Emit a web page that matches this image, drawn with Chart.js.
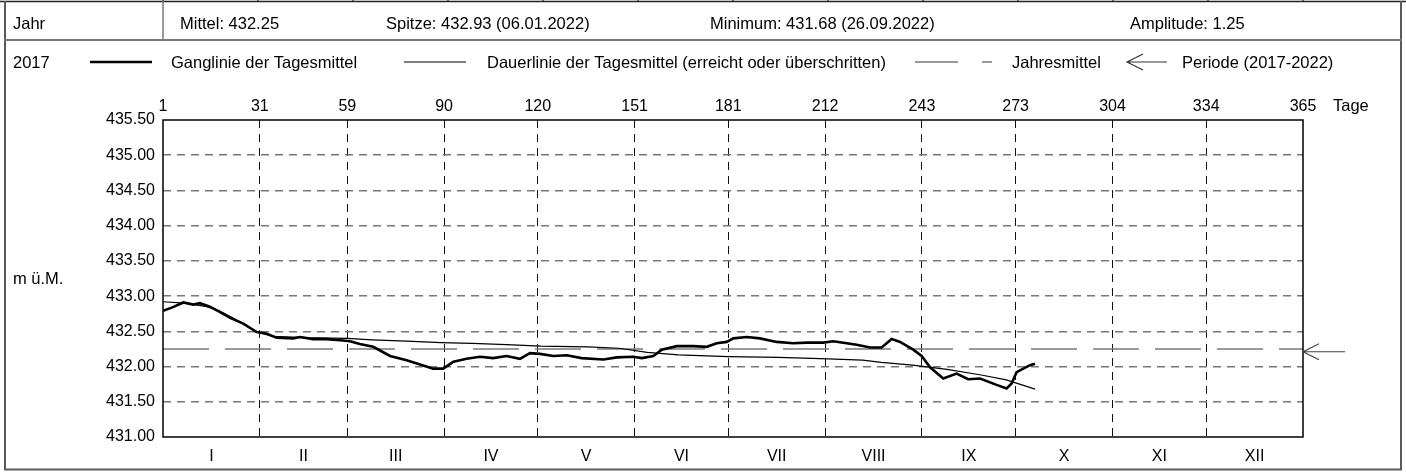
<!DOCTYPE html>
<html><head><meta charset="utf-8">
<script src="https://cdn.jsdelivr.net/npm/chart.js@4.4.1/dist/chart.umd.min.js"></script>
<style>html,body{margin:0;padding:0;background:#fff;overflow:hidden}</style>
</head><body>
<canvas id="c" width="1406" height="472" style="width:1406px;height:472px;display:block"></canvas>
<script>
// ---- data ----
const dayTicks = [0,31,59,90,120,151,181,212,243,273,304,334,365];
const dayTickLabels = ['1','31','59','90','120','151','181','212','243','273','304','334','365'];
const monthCenters = [15.5,45,74.5,105,135.5,166,196.5,227.5,258,288.5,319,349.5];
const monthLabels = ['I','II','III','IV','V','VI','VII','VIII','IX','X','XI','XII'];
const yTicks = [431,431.5,432,432.5,433,433.5,434,434.5,435,435.5];

const gangDays = [0,3,6.5,9.7,11.8,15,18,21.5,25.7,30,33,36.4,41.7,43.9,48,52.4,57.7,59.9,63,67.3,72.7,78,82.3,86.5,89.7,93,97.2,101.5,105.7,110,114.3,117.5,120.7,125,129.3,134,141,145.3,150.6,153.3,157,159.7,164.5,169.8,174.1,177.3,180.5,182.6,186.9,191.1,196.5,201.8,206.1,211.4,214.6,218.9,222.1,226.4,230.1,233.3,236,240.2,242.9,245.6,249.8,254.1,257.8,261.6,266.9,270.1,271.7,273.3,277.6,279.2];
const gangValues = [432.79,432.84,432.91,432.88,432.90,432.85,432.78,432.69,432.61,432.49,432.47,432.41,432.40,432.42,432.39,432.39,432.37,432.36,432.32,432.28,432.15,432.09,432.03,431.97,431.97,432.07,432.11,432.14,432.12,432.15,432.11,432.19,432.18,432.15,432.16,432.12,432.10,432.13,432.14,432.12,432.15,432.24,432.29,432.29,432.28,432.33,432.35,432.40,432.42,432.40,432.35,432.33,432.34,432.34,432.36,432.33,432.31,432.27,432.27,432.39,432.35,432.24,432.15,431.99,431.83,431.90,431.82,431.83,431.74,431.69,431.76,431.92,432.02,432.04];

const dauerDays = [0,7,14,18,22,26,30,35,45,59,67,78,89,99,110,121,136,146,155,165,181,197,213,224,230,240,251,262,270,275,279.2];
const dauerValues = [432.92,432.90,432.85,432.79,432.70,432.60,432.49,432.43,432.41,432.40,432.38,432.36,432.34,432.33,432.31,432.29,432.28,432.26,432.20,432.165,432.14,432.13,432.11,432.09,432.06,432.02,431.96,431.88,431.81,431.74,431.68];

const jahresmittel = 432.25;
const periodeMittel = 432.21;

const headerTexts = ['Jahr','Mittel: 432.25','Spitze: 432.93 (06.01.2022)','Minimum: 431.68 (26.09.2022)','Amplitude: 1.25'];
const legendTexts = ['2017','Ganglinie der Tagesmittel','Dauerlinie der Tagesmittel (erreicht oder überschritten)','Jahresmittel','Periode (2017-2022)'];
const yAxisTitle = 'm ü.M.';
const xAxisTitle = 'Tage';

// ---- chart ----
const FONT = '"Liberation Sans", Arial, sans-serif';
const toXY = (xs, ys) => xs.map((x, i) => ({x, y: ys[i]}));

function line(ctx, x1, y1, x2, y2, color, w, dash) {
  ctx.save();
  ctx.beginPath();
  ctx.strokeStyle = color; ctx.lineWidth = w;
  ctx.setLineDash(dash || []);
  ctx.moveTo(x1, y1); ctx.lineTo(x2, y2); ctx.stroke();
  ctx.restore();
}
function arrow(ctx, tipX, y, len, color) {
  ctx.save();
  ctx.strokeStyle = color; ctx.lineWidth = 1.2;
  ctx.beginPath();
  ctx.moveTo(tipX, y); ctx.lineTo(tipX + len, y);
  ctx.moveTo(tipX + 16, y - 8); ctx.lineTo(tipX, y); ctx.lineTo(tipX + 16, y + 8);
  ctx.stroke();
  ctx.restore();
}

const framePlugin = {
  id: 'frame',
  beforeDraw(chart) {
    const ctx = chart.ctx;
    ctx.save(); ctx.fillStyle = '#fff'; ctx.fillRect(0, 0, chart.width, chart.height); ctx.restore();
  },
  afterDraw(chart) {
    const ctx = chart.ctx;
    const a = chart.chartArea;
    // outer table frame
    line(ctx, 0, 1.5, 1406, 1.5, '#222', 1.5);
    for (let k = 0; k <= 12; k++) {
      const x = a.left + k * (a.right - a.left) / 12;
      line(ctx, x, 0, x, 2, '#222', 1.2);
    }
    line(ctx, 5, 1, 5, 470, '#5a5a5a', 2);
    line(ctx, 1401, 1, 1401, 470, '#5a5a5a', 2);
    line(ctx, 4, 469.5, 1402, 469.5, '#5a5a5a', 2);
    line(ctx, 4, 40, 1402, 40, '#7a7a7a', 2);
    line(ctx, a.left, 1, a.left, 40, '#7a7a7a', 1.5);

    ctx.save();
    ctx.fillStyle = '#000';
    ctx.font = '16.5px ' + FONT;
    ctx.textBaseline = 'alphabetic';
    // header
    const hx = [13, 180, 386, 710, 1130];
    headerTexts.forEach((t, i) => ctx.fillText(t, hx[i], 29));
    // legend row
    ctx.fillText(legendTexts[0], 13, 68);
    ctx.fillText(legendTexts[1], 171, 68);
    ctx.fillText(legendTexts[2], 487, 68);
    ctx.fillText(legendTexts[3], 1012, 68);
    ctx.fillText(legendTexts[4], 1182, 68);
    ctx.fillText(yAxisTitle, 13, 284);
    ctx.fillText(xAxisTitle, 1333, 111);
    ctx.restore();
    line(ctx, 90, 62, 152, 62, '#000', 2.5);
    line(ctx, 404, 62, 466, 62, '#000', 1.2);
    line(ctx, 915, 62, 958, 62, '#777', 1.5);
    line(ctx, 982, 62, 992, 62, '#777', 1.5);
    arrow(ctx, 1127, 62, 40, '#333');

    // plot border
    ctx.save();
    ctx.strokeStyle = '#000'; ctx.lineWidth = 1.5;
    ctx.strokeRect(a.left, a.top, a.right - a.left, a.bottom - a.top);
    ctx.restore();

    // period mean arrow
    const py = chart.scales.y.getPixelForValue(periodeMittel);
    arrow(ctx, a.right, py, 42, '#444');
  }
};

new Chart(document.getElementById('c'), {
  type: 'line',
  data: {
    datasets: [
      { label: legendTexts[1], data: toXY(gangDays, gangValues), borderColor: '#000', borderWidth: 2.6, pointRadius: 0, tension: 0, xAxisID: 'x', yAxisID: 'y' },
      { label: legendTexts[2], data: toXY(dauerDays, dauerValues), borderColor: '#000', borderWidth: 1.2, pointRadius: 0, tension: 0, xAxisID: 'x', yAxisID: 'y' },
      { label: legendTexts[3], data: toXY([dayTicks[0], dayTicks[dayTicks.length - 1]], [jahresmittel, jahresmittel]), borderColor: '#7a7a7a', borderWidth: 1.6, borderDash: [46, 16], pointRadius: 0, xAxisID: 'x', yAxisID: 'y' }
    ]
  },
  options: {
    responsive: false,
    animation: false,
    devicePixelRatio: 1,
    layout: { padding: { left: 0, top: 0, right: 103, bottom: 0 } },
    plugins: { legend: { display: false }, tooltip: { enabled: false }, title: { display: false } },
    scales: {
      x: {
        type: 'linear', position: 'top', min: 0, max: 365,
        afterBuildTicks: s => { s.ticks = dayTicks.map(v => ({ value: v })); },
        afterFit: s => { s.height = 120; },
        ticks: { autoSkip: false, maxRotation: 0, padding: 4, color: '#000', font: { family: FONT, size: 16 },
          callback: (v) => dayTickLabels[dayTicks.indexOf(v)] },
        grid: { drawTicks: false, lineWidth: 1, color: c => (c.tick && (c.tick.value === 0 || c.tick.value === 365)) ? 'rgba(0,0,0,0)' : '#111' },
        border: { display: false, dash: [8, 6] }
      },
      xm: {
        type: 'linear', position: 'bottom', min: 0, max: 365,
        afterBuildTicks: s => { s.ticks = monthCenters.map(v => ({ value: v })); },
        afterFit: s => { s.height = 35; },
        ticks: { autoSkip: false, maxRotation: 0, padding: 10, color: '#000', font: { family: FONT, size: 16 },
          callback: (v) => monthLabels[monthCenters.indexOf(v)] },
        grid: { display: false, drawTicks: false },
        border: { display: false }
      },
      y: {
        type: 'linear', position: 'left', min: 431, max: 435.5,
        afterBuildTicks: s => { s.ticks = yTicks.map(v => ({ value: v })); },
        afterFit: s => { s.width = 163; },
        ticks: { padding: 8, color: '#000', font: { family: FONT, size: 16 }, callback: v => Number(v).toFixed(2) },
        grid: { drawTicks: false, lineWidth: 1.5, color: c => (c.tick && (c.tick.value === 431 || c.tick.value === 435.5)) ? 'rgba(0,0,0,0)' : '#777' },
        border: { display: false, dash: [8, 6] }
      }
    }
  },
  plugins: [framePlugin]
});
</script>
</body></html>
